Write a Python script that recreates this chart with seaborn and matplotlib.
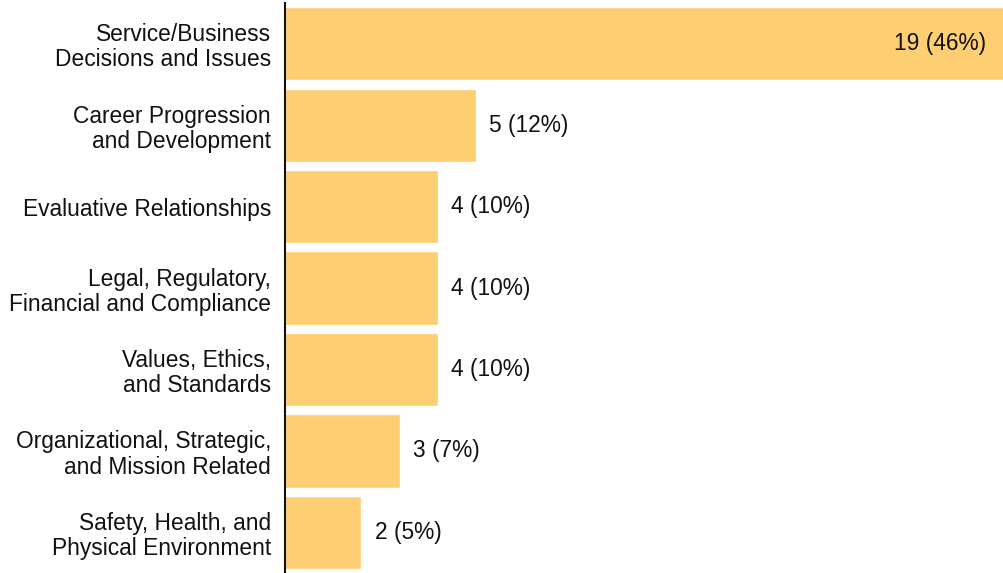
import matplotlib
matplotlib.use("Agg")
import matplotlib.pyplot as plt
import seaborn as sns

categories = [
    "Service/Business\nDecisions and Issues",
    "Career Progression\nand Development",
    "Evaluative Relationships",
    "Legal, Regulatory,\nFinancial and Compliance",
    "Values, Ethics,\nand Standards",
    "Organizational, Strategic,\nand Mission Related",
    "Safety, Health, and\nPhysical Environment",
]
counts = [19, 5, 4, 4, 4, 3, 2]
percents = [46, 12, 10, 10, 10, 7, 5]

BAR_COLOR = "#FECE72"
FS = 16.4

sns.set_theme(style="white")
plt.rcParams["font.family"] = ["Liberation Sans", "DejaVu Sans"]

fig = plt.figure(figsize=(10.04, 5.73), dpi=100)
ax = fig.add_axes([285 / 1004, 0, 1 - 285 / 1004, 1 - 3 / 573])

sns.barplot(x=counts, y=categories, orient="h", color=BAR_COLOR,
            saturation=1, width=0.9, ax=ax)

ax.set_xlim(0, 18.8)
ax.set_ylim(len(categories) - 0.5, -0.5)

# value labels: inside for the clipped long bar, outside otherwise
xmax = ax.get_xlim()[1]
for i, (c, p) in enumerate(zip(counts, percents)):
    label = f"{c} ({p}%)"
    if c >= xmax:
        ax.annotate(label, xy=(xmax, i), xytext=(-13, 0), textcoords="offset points",
                    ha="right", va="center", fontsize=FS, color="#111111")
    else:
        ax.annotate(label, xy=(c, i), xytext=(9.5, 0), textcoords="offset points",
                    ha="left", va="center", fontsize=FS, color="#111111")

ax.set_xlabel("")
ax.set_ylabel("")
ax.set_xticks([])
ax.tick_params(axis="y", length=0, pad=10, labelsize=FS, labelcolor="#111111")
for lbl in ax.get_yticklabels():
    lbl.set_linespacing(1.12)

for side in ["top", "right", "bottom"]:
    ax.spines[side].set_visible(False)
ax.spines["left"].set_color("#111111")
ax.spines["left"].set_linewidth(1.5)

fig.savefig("out.png", dpi=100)
